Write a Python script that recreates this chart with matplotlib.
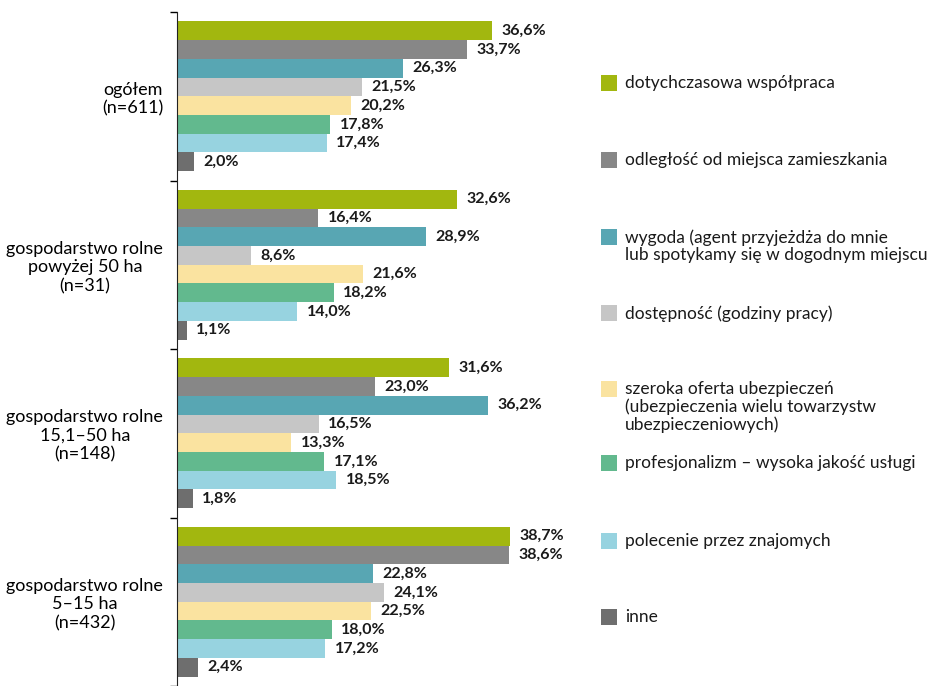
import matplotlib
matplotlib.use("Agg")
import matplotlib.pyplot as plt
import numpy as np
from matplotlib.patches import Rectangle

plt.rcParams["font.family"] = ["Lato", "DejaVu Sans"]

groups = ["ogółem\n(n=611)",
          "gospodarstwo rolne\npowyżej 50 ha\n(n=31)",
          "gospodarstwo rolne\n15,1–50 ha\n(n=148)",
          "gospodarstwo rolne\n5–15 ha\n(n=432)"]
series = ["dotychczasowa współpraca",
          "odległość od miejsca zamieszkania",
          "wygoda (agent przyjeżdża do mnie\nlub spotykamy się w dogodnym miejscu",
          "dostępność (godziny pracy)",
          "szeroka oferta ubezpieczeń\n(ubezpieczenia wielu towarzystw\nubezpieczeniowych)",
          "profesjonalizm – wysoka jakość usługi",
          "polecenie przez znajomych",
          "inne"]
values = [
    [36.6, 32.6, 31.6, 38.7],
    [33.7, 16.4, 23.0, 38.6],
    [26.3, 28.9, 36.2, 22.8],
    [21.5, 8.6, 16.5, 24.1],
    [20.2, 21.6, 13.3, 22.5],
    [17.8, 18.2, 17.1, 18.0],
    [17.4, 14.0, 18.5, 17.2],
    [2.0, 1.1, 1.8, 2.4],
]
colors = ["#A2B70F", "#878787", "#58A6B3", "#C6C6C6",
          "#FAE3A0", "#62B98E", "#97D3E0", "#6E6E6E"]

fig = plt.figure(figsize=(9.32, 6.86), dpi=100)
ax = fig.add_axes([0.19, 0.0, 0.43, 0.9825])

y = np.arange(len(groups))
h = 0.111
n = len(series)
for i, (vals, c) in enumerate(zip(values, colors)):
    pos = y - n * h / 2 + h * (i + 0.5)
    ax.barh(pos, vals, height=h, color=c, edgecolor="none")
    for p, v in zip(pos, vals):
        ax.text(v + 1.1, p, f"{v:.1f}%".replace(".", ","), va="center",
                ha="left", fontsize=11.5, fontweight="bold", color="#1a1a1a")

ax.set_ylim(len(groups) - 0.5, -0.5)
ax.set_xlim(0, 46.6)
ax.set_yticks(np.arange(-0.5, len(groups)), labels=[])
ax.set_yticks(y, minor=True)
ax.set_yticklabels(groups, minor=True, fontsize=13, multialignment="center")
ax.tick_params(axis="y", which="major", length=5, width=1, direction="out")
ax.tick_params(axis="y", which="minor", length=0, pad=10)
ax.set_xticks([])
for s in ["top", "right", "bottom"]:
    ax.spines[s].set_visible(False)
ax.spines["left"].set_color("#222222")

# legend
leg_y = [83, 160, 237, 313, 389, 463, 541, 617]
W, H = 932, 686
for yy, lab, c in zip(leg_y, series, colors):
    fig.add_artist(Rectangle((601 / W, 1 - (yy + 8) / H), 16 / W, 16 / H,
                             transform=fig.transFigure, color=c, lw=0))
    fig.text(625 / W, 1 - (yy - 8) / H, lab, ha="left", va="top",
             fontsize=12.5, linespacing=1.12, color="#1a1a1a")

fig.savefig("out.png", dpi=100)
